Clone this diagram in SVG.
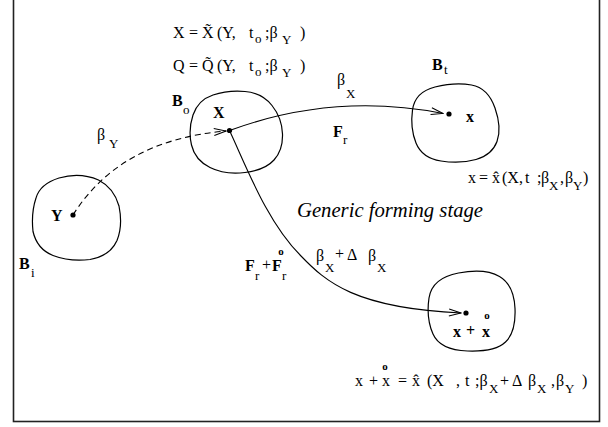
<svg xmlns="http://www.w3.org/2000/svg" width="608" height="427" viewBox="0 0 608 427">
<style>
text{font-family:"Liberation Serif","Times New Roman",serif;font-size:16px;fill:#000}
.b{font-weight:bold}
.s{font-size:13px}
.r{font-size:11px;font-weight:bold;text-anchor:middle}
.it{font-style:italic;font-size:20px}
.blob{fill:none;stroke:#000;stroke-width:1.2}
.con{fill:none;stroke:#000;stroke-width:1.1}
.dot{fill:#000}
</style>
<defs>
<marker id="arr" markerUnits="userSpaceOnUse" markerWidth="14" markerHeight="10" refX="13" refY="5" orient="auto">
<path d="M1,1.5 L13,5 L1,8.5" fill="none" stroke="#000" stroke-width="1"/>
</marker>
</defs>
<rect x="13.5" y="-1" width="586" height="422.5" fill="#fff" stroke="#222" stroke-width="1.6"/>

<g id="node-Bi">
<path class="blob" d="M36,198 Q40,184 59,178 Q80,172 98.5,180 Q114,188 119,206 Q123,226 117,240.5 Q110,256 90,259.5 Q70,262 53,255.5 Q37,249 33,231.5 Q31,213 36,198 Z"/>
<circle class="dot" cx="73" cy="215" r="2.6"/>
<text class="b" x="51" y="221">Y</text>
<text class="b" x="19" y="269">B</text><text class="s" x="31" y="277">i</text>
</g>

<g id="node-Bo">
<path class="blob" d="M193,115 Q198,100 213,95 Q228,90 245,91.5 Q262,93 272,105.5 Q282,118 282.5,134 Q283,150 274,160 Q265,170 245,172.5 Q225,175 210,167.5 Q195,160 191.5,145 Q188,130 193,115 Z"/>
<circle class="dot" cx="229.5" cy="130.5" r="2.6"/>
<text class="b" x="213" y="118">X</text>
<text class="b" x="172" y="106">B</text><text class="s" x="183" y="114">o</text>
</g>

<g id="node-Bt">
<path class="blob" d="M412.5,110 Q415,92 435,87 Q455,82 471.5,85 Q488,88 495,108 Q502,128 497,141.5 Q492,155 476,159.5 Q460,164 441,161 Q422,158 416,143 Q410,128 412.5,110 Z"/>
<circle class="dot" cx="449" cy="114" r="2.6"/>
<text class="b" x="466" y="122">x</text>
<text class="b" x="432" y="70">B</text><text class="s" x="444" y="74">t</text>
</g>

<g id="node-Bf">
<path class="blob" d="M429,298 Q432,278 458.5,273 Q485,268 499.5,276.5 Q514,285 515,308.5 Q516,332 505.5,342 Q495,352 467.5,351 Q440,350 433,334 Q426,318 429,298 Z"/>
<circle class="dot" cx="466" cy="313" r="2.6"/>
<text class="b" x="453" y="337">x</text>
<text class="b" x="466" y="336">+</text>
<text class="b" x="482" y="337">x</text>
<text class="r" x="487" y="319">o</text>
</g>

<g id="connectors">
<path class="con" d="M73,215 Q120,140 226,131" stroke-dasharray="6,4" marker-end="url(#arr)"/>
<path class="con" d="M229.5,130.5 Q334,92 443,113.5" marker-end="url(#arr)"/>
<path class="con" d="M229.5,130.5 C247,168 267,222 301,256 C326,282 355,308 461,313" marker-end="url(#arr)"/>
</g>

<g id="labels">
<text x="173" y="38">X</text><text x="189" y="38">=</text><text x="202" y="38">X̃</text>
<text x="217" y="38">(Y,</text><text x="249" y="38">t</text><text class="s" x="255" y="43">o</text>
<text x="265" y="38">;β</text><text class="s" x="282" y="44">Y</text><text x="300" y="38">)</text>

<text x="173" y="71">Q</text><text x="189" y="71">=</text><text x="202" y="71">Q̃</text>
<text x="217" y="71">(Y,</text><text x="249" y="71">t</text><text class="s" x="255" y="76">o</text>
<text x="265" y="71">;β</text><text class="s" x="282" y="77">Y</text><text x="300" y="71">)</text>

<text x="97" y="140">β</text><text class="s" x="109" y="148">Y</text>
<text x="337" y="85">β</text><text class="s" x="346" y="98">X</text>
<text class="b" x="333" y="137">F</text><text class="s" x="343" y="144">r</text>

<text x="468" y="183">x</text><text x="479" y="183">=</text><text x="492" y="183">x̂</text>
<text x="502" y="183">(X,</text><text x="525" y="183">t</text>
<text x="537" y="183">;</text><text x="541" y="183">β</text><text class="s" x="549" y="190">X</text>
<text x="560" y="183">,</text><text x="565" y="183">β</text><text class="s" x="573" y="190">Y</text><text x="583" y="183">)</text>

<text class="it" x="297" y="217" textLength="186" lengthAdjust="spacingAndGlyphs">Generic forming stage</text>

<text class="b" x="245" y="271">F</text><text class="s" x="255" y="280">r</text>
<text x="262" y="270">+</text>
<text class="b" x="272" y="271">F</text><text class="s" x="282" y="280">r</text>
<text class="r" x="281" y="255">o</text>
<text x="316" y="261">β</text><text class="s" x="325" y="272">X</text>
<text x="335" y="259">+</text><text x="347" y="260">Δ</text>
<text x="368" y="261">β</text><text class="s" x="377" y="272">X</text>

<text x="355" y="386">x</text><text x="369" y="386">+</text><text x="382" y="386">x</text>
<text class="r" x="385" y="370">o</text>
<text x="398" y="386">=</text><text x="412" y="386">x̂</text>
<text x="427" y="386">(X</text><text x="456" y="386">,</text><text x="465" y="386">t</text>
<text x="475" y="386">;β</text><text class="s" x="489" y="393">X</text>
<text x="500" y="386">+</text><text x="512" y="386">Δ</text>
<text x="528" y="386">β</text><text class="s" x="537" y="393">X</text>
<text x="551" y="386">,</text><text x="556" y="386">β</text><text class="s" x="565" y="393">Y</text><text x="582" y="386">)</text>
</g>
</svg>
